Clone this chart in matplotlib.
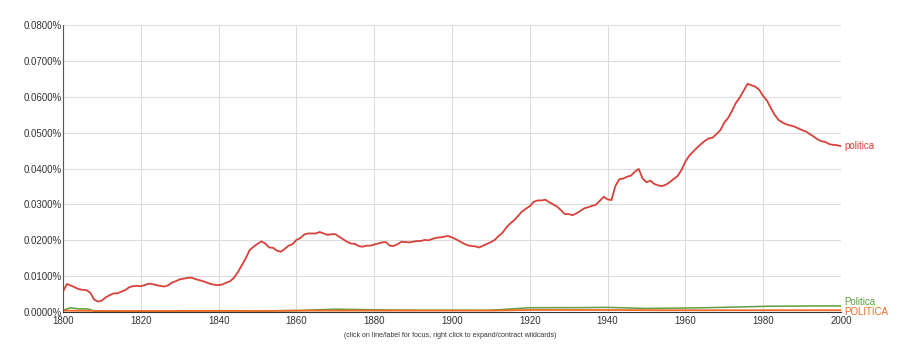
import numpy as np
import matplotlib.pyplot as plt
from matplotlib.ticker import FuncFormatter

plt.rcParams['font.family'] = ['Liberation Sans', 'DejaVu Sans']

# years 1800..2000
years = np.arange(1800, 2001)

# "politica" (percent), one value per year
politica = [
    0.0057, 0.0078, 0.0074, 0.0069, 0.0064, 0.0062, 0.0061, 0.0054, 0.0035, 0.0029,
    0.0032, 0.0041, 0.0047, 0.0052, 0.0052, 0.0057, 0.0061, 0.0069, 0.0072, 0.0073,
    0.0072, 0.0075, 0.0079, 0.0078, 0.0075, 0.0073, 0.0071, 0.0074, 0.0082, 0.0086,
    0.0091, 0.0093, 0.0095, 0.0096, 0.0092, 0.0089, 0.0086, 0.0082, 0.0078, 0.0076,
    0.0075, 0.0077, 0.0082, 0.0086, 0.0096, 0.0112, 0.0131, 0.0150, 0.0173, 0.0182,
    0.0190, 0.0197, 0.0191, 0.0180, 0.0179, 0.0171, 0.0168, 0.0176, 0.0185, 0.0189,
    0.0201, 0.0206, 0.0216, 0.0219, 0.0219, 0.0219, 0.0223, 0.0219, 0.0215, 0.0217,
    0.0217, 0.0210, 0.0203, 0.0196, 0.0191, 0.0190, 0.0184, 0.0182, 0.0185, 0.0185,
    0.0188, 0.0191, 0.0194, 0.0195, 0.0185, 0.0184, 0.0189, 0.0196, 0.0195, 0.0194,
    0.0196, 0.0198, 0.0198, 0.0201, 0.0200, 0.0204, 0.0207, 0.0208, 0.0210, 0.0212,
    0.0208, 0.0203, 0.0197, 0.0191, 0.0186, 0.0184, 0.0183, 0.0180, 0.0185, 0.0190,
    0.0195, 0.0201, 0.0212, 0.0221, 0.0236, 0.0247, 0.0256, 0.0268, 0.0280, 0.0288,
    0.0295, 0.0307, 0.0311, 0.0311, 0.0313, 0.0306, 0.0300, 0.0294, 0.0284, 0.0273,
    0.0273, 0.0270, 0.0275, 0.0282, 0.0289, 0.0292, 0.0296, 0.0299, 0.0310, 0.0321,
    0.0314, 0.0312, 0.0351, 0.0370, 0.0372, 0.0377, 0.0380, 0.0391, 0.0399, 0.0372,
    0.0362, 0.0366, 0.0357, 0.0353, 0.0351, 0.0355, 0.0362, 0.0371, 0.0379, 0.0396,
    0.0419, 0.0436, 0.0447, 0.0458, 0.0468, 0.0477, 0.0484, 0.0486, 0.0496, 0.0507,
    0.0528, 0.0541, 0.0561, 0.0583, 0.0598, 0.0617, 0.0636, 0.0632, 0.0628, 0.0619,
    0.0602, 0.0589, 0.0568, 0.0549, 0.0535, 0.0528, 0.0523, 0.0520, 0.0517, 0.0512,
    0.0507, 0.0503, 0.0496, 0.0489, 0.0481, 0.0476, 0.0474, 0.0468, 0.0466, 0.0465,
    0.0462,
]

# "Politica" and "POLITICA" sampled every 10 years (they sit near zero)
decades = np.arange(1800, 2001, 10)
Politica_dec = [0.0005, 0.0002, 0.0003, 0.0003, 0.0004, 0.0003, 0.0004, 0.0008, 0.0006, 0.0005,
                0.0005, 0.0005, 0.0012, 0.0012, 0.0013, 0.0010, 0.0011, 0.0013, 0.0016, 0.0017,
                0.0017]
POLITICA_dec = [0.0004, 0.0003, 0.0003, 0.0003, 0.0003, 0.0003, 0.0004, 0.0004, 0.0004, 0.0004,
                0.0004, 0.0004, 0.0006, 0.0006, 0.0006, 0.0005, 0.0005, 0.0005, 0.0005, 0.0005,
                0.0005]
# early bump of "Politica"
Politica_early_years = [1800, 1802, 1804, 1806, 1807, 1808]
Politica_early = [0.0005, 0.0012, 0.0009, 0.0009, 0.0007, 0.0002]

pol_years = np.concatenate([Politica_early_years, decades[1:]])
pol_vals = np.concatenate([Politica_early, Politica_dec[1:]])
Politica = np.interp(years, pol_years, pol_vals)
POLITICA = np.interp(years, decades, POLITICA_dec)

red = '#d8413a'
green = '#5e9e40'
orange = '#f26a24'

fig = plt.figure(figsize=(9, 3.51), dpi=100)
ax = fig.add_axes([0.07, 0.111, 0.8644, 0.8178])

ax.plot(years, Politica, color=green, linewidth=1.1)
ax.plot(years, POLITICA, color=orange, linewidth=1.3)
ax.plot(years, politica, color=red, linewidth=1.3)

ax.set_xlim(1800, 2000)
ax.set_ylim(0, 0.08)
ax.set_xticks(np.arange(1800, 2001, 20))
ax.set_yticks(np.arange(0, 0.0801, 0.01))
ax.yaxis.set_major_formatter(FuncFormatter(lambda v, p: '%.4f%%' % v))

ax.grid(True, color='#dddddd', linewidth=0.8)
ax.set_axisbelow(True)
for s in ['top', 'right']:
    ax.spines[s].set_visible(False)
ax.spines['left'].set_color('#555555')
ax.spines['bottom'].set_color('#333333')
ax.tick_params(axis='both', labelsize=7, labelcolor='#333333', length=0)
ax.tick_params(axis='x', pad=3)
ax.tick_params(axis='y', pad=1)

# labels at the line ends
ax.text(2000.8, politica[-1], 'politica', color=red, fontsize=7, va='center', ha='left', clip_on=False)
ax.text(2000.8, Politica[-1] + 0.0012, 'Politica', color=green, fontsize=7, va='center', ha='left', clip_on=False)
ax.text(2000.8, POLITICA[-1] - 0.0006, 'POLITICA', color=orange, fontsize=7, va='center', ha='left', clip_on=False)

fig.text(0.5, 0.043, '(click on line/label for focus, right click to expand/contract wildcards)',
         ha='center', va='center', fontsize=5, color='#333333')

fig.savefig('out.png', dpi=100)
